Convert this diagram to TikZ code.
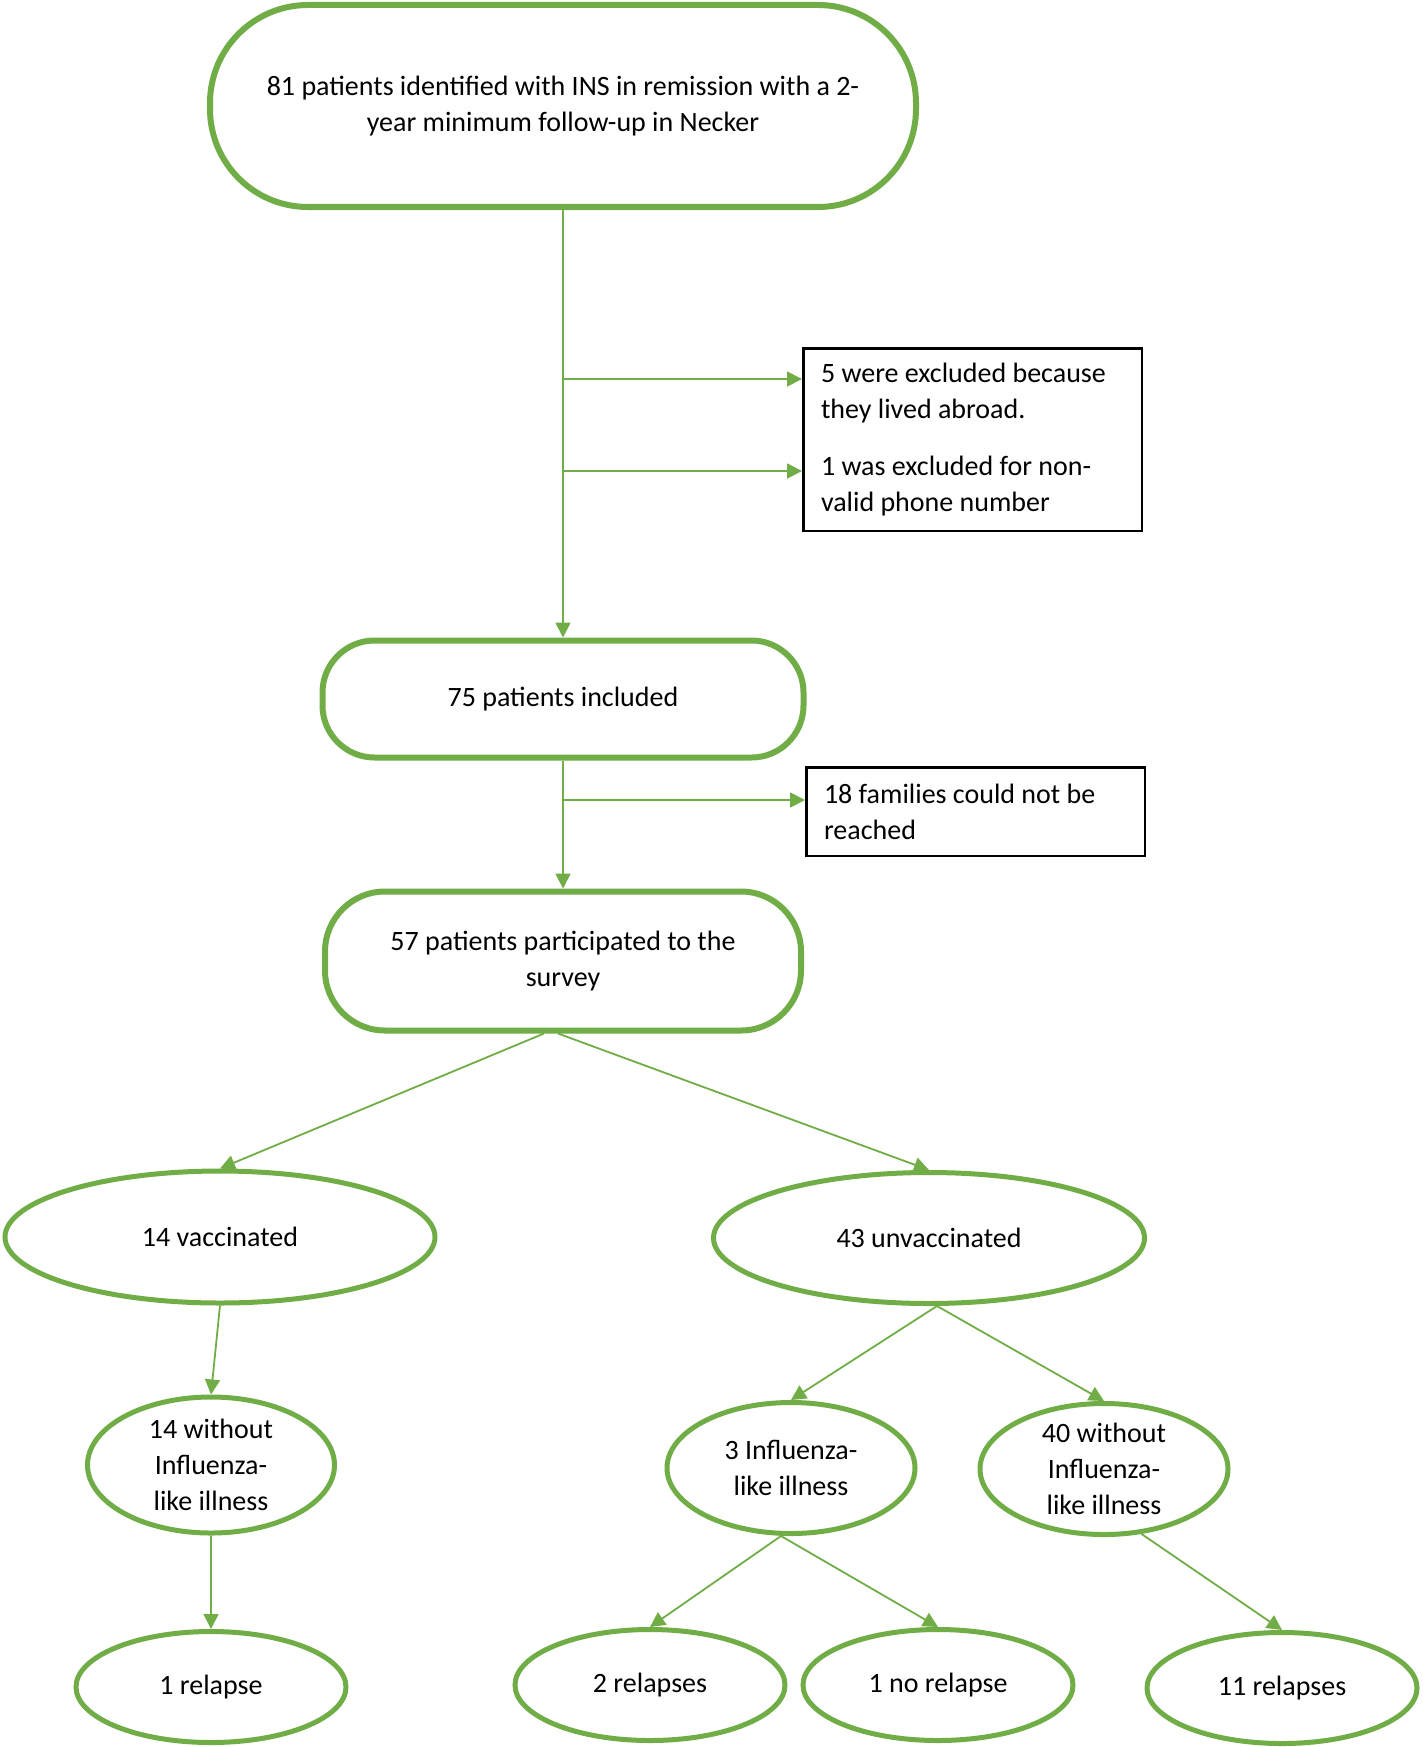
\documentclass[tikz,border=0pt]{standalone}
\usepackage{fontspec}
\setmainfont{Carlito}
\usetikzlibrary{shapes.geometric,arrows.meta}
\definecolor{gr}{HTML}{70AD47}
\begin{document}
\begin{tikzpicture}[x=1pt,y=-1pt,
  font=\fontsize{28}{36}\selectfont,
  arr/.style={draw=gr,line width=1.8pt,-{Triangle[length=15pt,width=15pt]}},
  stad/.style={draw=gr,line width=6pt,fill=white,align=center,inner sep=0pt},
  ell/.style={ellipse,draw=gr,line width=5pt,fill=white,align=center,inner sep=0pt},
  boxed/.style={draw=black,line width=2.5pt,fill=white,align=left,inner ysep=0pt}
]
\useasboundingbox (0,0) rectangle (1422,1747);

\node[stad,minimum width=706pt,minimum height=202pt,rounded corners=98pt] (top) at (563,106)
  {81 patients identified with INS in remission with a 2-\\year minimum follow-up in Necker};
\node[boxed,text width=303pt,inner xsep=17.75pt,minimum height=182.5pt] (excl) at (972.5,439.5)
  {\spaceskip=0pt\xspaceskip=0pt 5 were excluded because\\they lived abroad.\\[21pt]1 was excluded for non-\\valid phone number};
\node[stad,minimum width=481pt,minimum height=117pt,rounded corners=52pt] (p75) at (563,699)
  {75 patients included};
\node[boxed,text width=303pt,inner xsep=17.75pt,minimum height=88.5pt] (reach) at (975.5,811.5)
  {\spaceskip=0pt\xspaceskip=0pt 18 families could not be\\reached};
\node[stad,minimum width=476pt,minimum height=139pt,rounded corners=60pt] (p57) at (563,961)
  {57 patients participated to the\\survey};

\node[ell,minimum width=430pt,minimum height=132pt] (vacc) at (220,1237) {14 vaccinated};
\node[ell,minimum width=431pt,minimum height=131pt] (unvacc) at (929,1238) {43 unvaccinated};
\node[ell,minimum width=247pt,minimum height=136pt] (w14) at (211,1465) {14 without\\Influenza-\\like illness};
\node[ell,minimum width=248pt,minimum height=131pt] (infl) at (791,1468) {3 Influenza-\\like illness};
\node[ell,minimum width=248pt,minimum height=131pt] (w40) at (1104,1469) {40 without\\Influenza-\\like illness};
\node[ell,minimum width=270pt,minimum height=111pt] (r1) at (211,1687) {1 relapse};
\node[ell,minimum width=270pt,minimum height=111pt] (r2) at (650,1685) {2 relapses};
\node[ell,minimum width=270pt,minimum height=111pt] (r3) at (938,1685) {1 no relapse};
\node[ell,minimum width=270pt,minimum height=111pt] (r4) at (1282,1688) {11 relapses};

\coordinate (b1) at (563,379);
\coordinate (b2) at (563,471);
\coordinate (b3) at (563,800);

\draw[arr] (top.south) -- (p75.north);
\draw[arr] (b1) -- (b1 -| excl.west);
\draw[arr] (b2) -- (b2 -| excl.west);
\draw[arr] (p75.south) -- (p57.north);
\draw[arr] (b3) -- (b3 -| reach.west);
\draw[arr] ([xshift=-19pt]p57.south) -- (vacc.north);
\draw[arr] ([xshift=-5pt]p57.south) -- (unvacc.north);
\draw[arr] (vacc.south) -- (w14.north);
\draw[arr] (w14.south) -- (r1.north);
\draw[arr] ([xshift=8pt]unvacc.south) -- (infl.north);
\draw[arr] ([xshift=8pt]unvacc.south) -- (w40.north);
\draw[arr] ([xshift=-10pt]infl.south) -- (r2.north);
\draw[arr] ([xshift=-10pt]infl.south) -- (r3.north);
\draw[arr] (w40.-60) -- (r4.north);
\end{tikzpicture}
\end{document}
